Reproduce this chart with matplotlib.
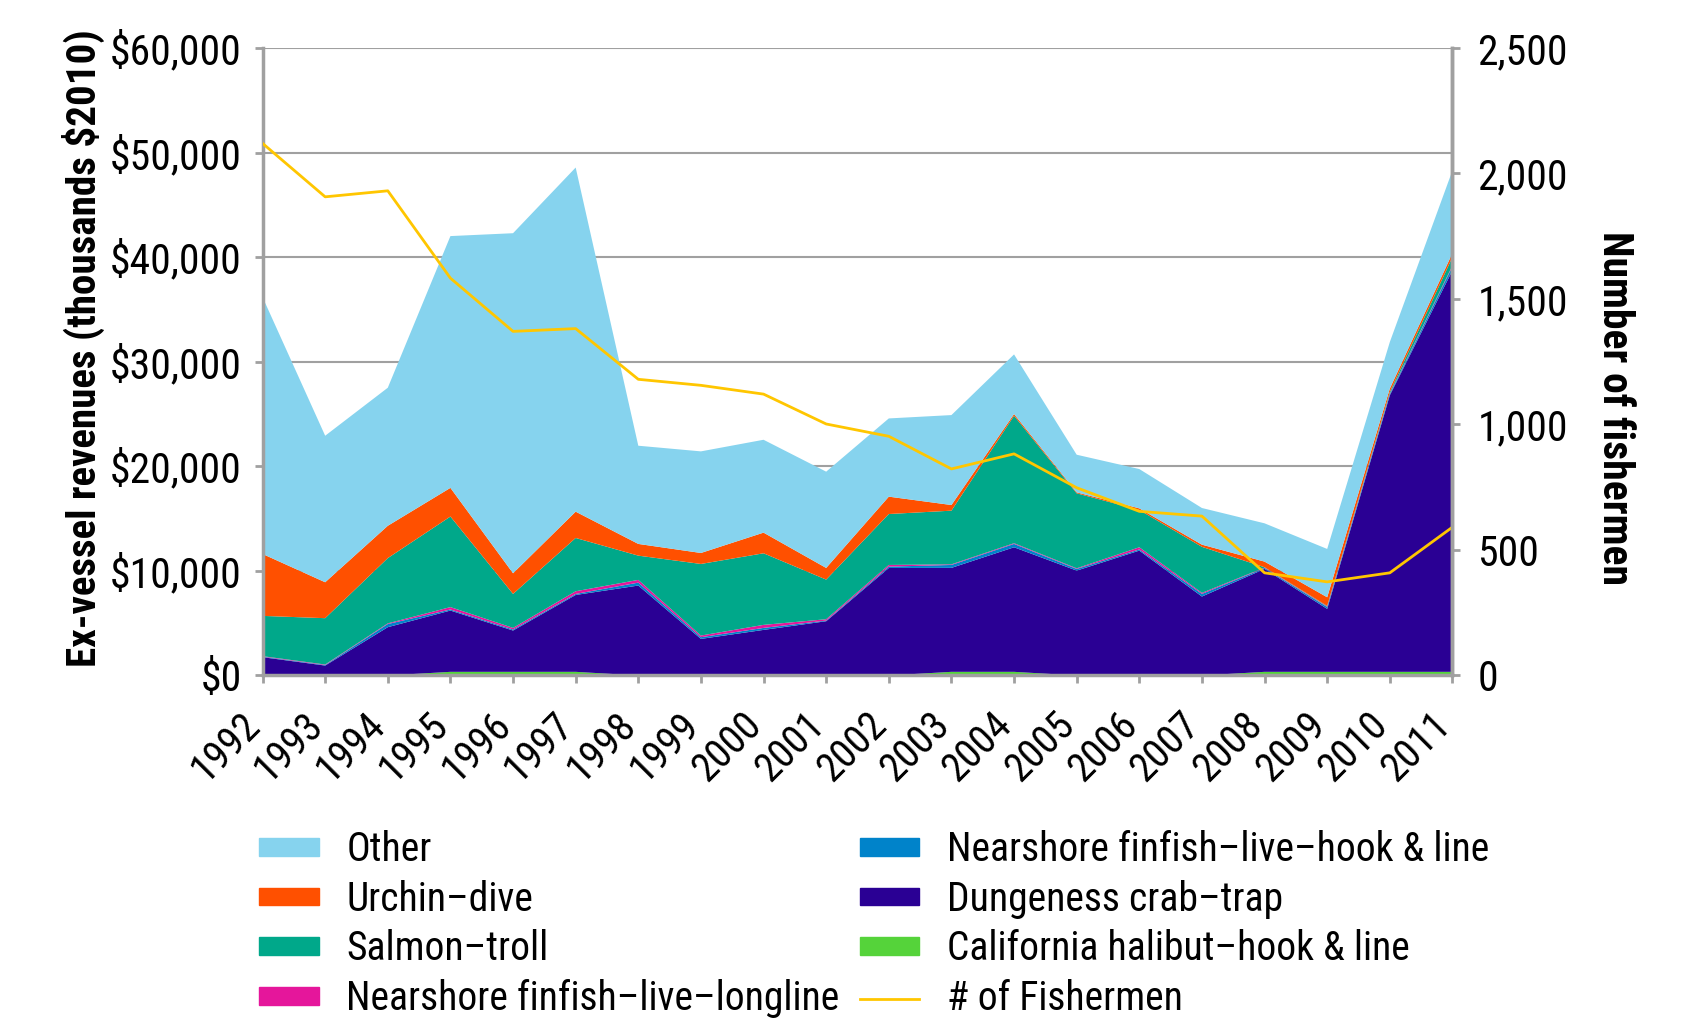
import numpy as np
import matplotlib
matplotlib.use("Agg")
import matplotlib.pyplot as plt
from matplotlib.patches import Patch
from matplotlib.lines import Line2D
from matplotlib.ticker import FuncFormatter
from matplotlib.transforms import ScaledTranslation

plt.rcParams['font.family'] = ['Roboto Condensed', 'DejaVu Sans']

years = list(range(1992, 2012))

# revenues, thousands $2010 (stacked, bottom to top)
halibut = [0, 0, 0, 350, 350, 350, 0, 0, 0, 0, 0, 350, 350, 0, 0, 0, 350, 350, 350, 350]
dungeness = [1750, 950, 4620, 5860, 3950, 7350, 8600, 3500, 4360, 5190,
             10280, 9940, 11910, 10030, 11940, 7550, 9840, 6020, 26440, 38380]
hook_line = [50, 50, 300, 100, 100, 100, 280, 160, 190, 60,
             130, 280, 320, 160, 110, 250, 90, 180, 110, 370]
longline = [50, 50, 65, 230, 150, 255, 260, 160, 290, 130,
            160, 60, 70, 60, 210, 100, 40, 50, 50, 100]
salmon = [3850, 4430, 6240, 8660, 3250, 5095, 2320, 6845, 6845, 3790,
          4870, 5130, 12185, 7170, 3565, 4400, 30, 50, 150, 800]
urchin = [5920, 3435, 3090, 2740, 1975, 2515, 1120, 1050, 1975, 1115,
          1660, 540, 165, 90, 155, 210, 540, 830, 330, 385]
other = [24560, 14010, 13200, 24075, 32515, 32905, 9390, 9715, 8880, 9205,
         7480, 8600, 5700, 3600, 3760, 3505, 3660, 4620, 4450, 7895]

fishermen = [2120, 1907, 1931, 1583, 1371, 1382, 1180, 1156, 1121, 1002,
             953, 823, 883, 748, 654, 635, 409, 373, 409, 591]

c_other = '#86D3EE'
c_urchin = '#FF5000'
c_salmon = '#00A88A'
c_longline = '#E5169B'
c_hook = '#0083CA'
c_dung = '#2A0094'
c_halibut = '#55D33A'
c_fish = '#FFC600'
gray = '#A0A0A0'

fig = plt.figure(figsize=(16.83, 10.21), dpi=100)
ax = fig.add_axes([0.156, 0.3384, 0.707, 0.6146])

ax.stackplot(years, halibut, dungeness, hook_line, longline, salmon, urchin, other,
             colors=[c_halibut, c_dung, c_hook, c_longline, c_salmon, c_urchin, c_other],
             linewidth=0)
ax.set_xlim(1992, 2011)
ax.set_ylim(0, 60000)
ax.set_yticks(range(0, 60001, 10000))
ax.yaxis.set_major_formatter(FuncFormatter(lambda v, p: '${:,.0f}'.format(v)))
ax.set_axisbelow(True)
ax.grid(axis='y', color=gray, linewidth=1.5)
ax.tick_params(axis='y', labelsize=30, length=6, width=2, color=gray, pad=9)
ax.tick_params(axis='x', length=6, width=2, color=gray, pad=16)
ax.set_xticks(years)
ax.set_xticklabels([str(y) for y in years], rotation=45, ha='right',
                   rotation_mode='anchor', fontsize=29)
# nudge the rotated year labels left so they end just before their tick
for lab in ax.get_xticklabels():
    lab.set_transform(lab.get_transform() + ScaledTranslation(-16 / 72, 1 / 72, fig.dpi_scale_trans))
ax.set_ylabel('Ex-vessel revenues (thousands $2010)', fontsize=29.5,
              fontweight='bold')
ax.yaxis.set_label_coords(-0.132, 0.521)

ax2 = ax.twinx()
ax2.plot(years, fishermen, color=c_fish, linewidth=2)
ax2.set_ylim(0, 2500)
ax2.set_yticks(range(0, 2501, 500))
ax2.yaxis.set_major_formatter(FuncFormatter(lambda v, p: '{:,.0f}'.format(v)))
ax2.tick_params(axis='y', labelsize=30, length=6, width=2, color=gray, pad=12)
ax2.set_ylabel('Number of fishermen', fontsize=30, fontweight='bold',
               rotation=-90, va='center')
ax2.yaxis.set_label_coords(1.136, 0.427)

for a in (ax, ax2):
    a.spines['top'].set_visible(False)
    for s in ('left', 'right', 'bottom'):
        a.spines[s].set_color(gray)
        a.spines[s].set_linewidth(2.5)
ax2.spines['left'].set_visible(False)
ax2.spines['bottom'].set_visible(False)

leg_kw = dict(frameon=False, fontsize=28.5, handlelength=1.5, handleheight=0.32,
              handletextpad=0.7, labelspacing=0.27, borderpad=0, borderaxespad=0)

h1 = [Patch(color=c_other), Patch(color=c_urchin), Patch(color=c_salmon),
      Patch(color=c_longline)]
l1 = ['Other', 'Urchin–dive', 'Salmon–troll', 'Nearshore finfish–live–longline']
h2 = [Patch(color=c_hook), Patch(color=c_dung), Patch(color=c_halibut),
      Line2D([], [], color=c_fish, linewidth=2)]
l2 = ['Nearshore finfish–live–hook & line', 'Dungeness crab–trap',
      'California halibut–hook & line', '# of Fishermen']

fig.legend(h1, l1, loc='upper left', bbox_to_anchor=(0.154, 0.187), **leg_kw)
fig.legend(h2, l2, loc='upper left', bbox_to_anchor=(0.511, 0.187), **leg_kw)

fig.savefig('out.png', dpi=100)
